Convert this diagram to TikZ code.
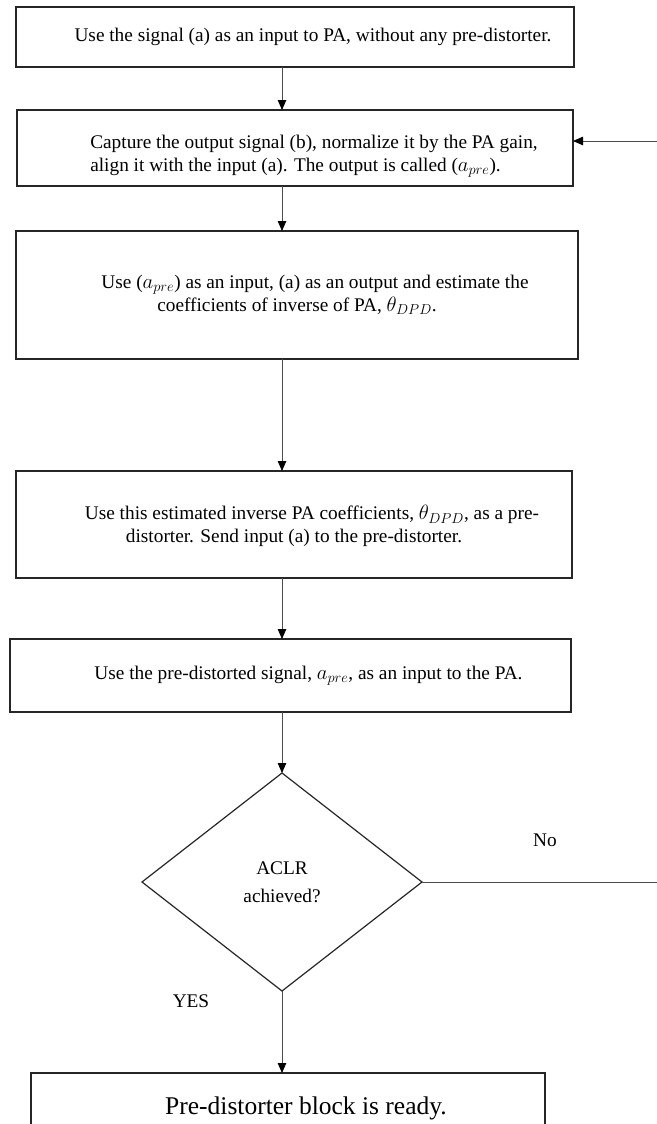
\documentclass[tikz,border=0pt]{standalone}
\usepackage{fontspec}
\setmainfont{Liberation Serif}
\usetikzlibrary{shapes.geometric,positioning,arrows.meta}

\begin{document}
\begin{tikzpicture}
  [x=1pt,y=-1pt,
   stepbox/.style={draw=black!85,line width=1.5pt,inner sep=0pt,outer sep=0pt,align=center,
                   font=\fontsize{19.3}{23}\selectfont},
   decision/.style={diamond,draw=black!85,line width=1.2pt,inner sep=0pt,outer sep=0pt,align=center,
                    minimum width=280pt,minimum height=218pt,font=\fontsize{19.3}{28}\selectfont},
   flow/.style={draw=black!70,line width=0.8pt,-{Triangle[length=10pt,width=8.5pt,color=black]}},
   lbl/.style={font=\fontsize{19.3}{23}\selectfont}]

  \useasboundingbox (0,0) rectangle (656,1124);

  \node[stepbox,minimum width=558pt,minimum height=60pt] (b1) at (295,37)
    {\hspace*{36pt}Use the signal (a) as an input to PA, without any pre-distorter.};
  \node[stepbox,minimum width=556pt,minimum height=76pt,align=left] (b2) [below=43pt of b1]
    {\hspace*{38pt}\rule{0pt}{29pt}Capture the output signal (b), normalize it by the PA gain,\\
     \hspace*{38pt}align it with the input (a). The output is called ($a_{pre}$).};
  \node[stepbox,minimum width=562pt,minimum height=128pt] (b3) [below=45pt of b2,xshift=2pt]
    {\hspace*{36pt}Use ($a_{pre}$) as an input, (a) as an output and estimate the\\
     coefficients of inverse of PA, $\theta_{DPD}$.};
  \node[stepbox,minimum width=556pt,minimum height=107pt] (b4) [below=112pt of b3,xshift=-3pt]
    {\hspace*{36pt}\rule{0pt}{18pt}Use this estimated inverse PA coefficients, $\theta_{DPD}$, as a pre-\\
     distorter. Send input (a) to the pre-distorter.};
  \node[stepbox,minimum width=561pt,minimum height=73pt] (b5) [below=61pt of b4,xshift=-3.5pt]
    {\hspace*{36pt}Use the pre-distorted signal, $a_{pre}$, as an input to the PA.};
  \node[decision] (dec) [below=61pt of b5,xshift=-8.5pt] {ACLR\\achieved?};
  \node[stepbox,minimum width=514pt,minimum height=70pt,font=\fontsize{25.5}{30}\selectfont]
    (done) [below=82pt of dec,xshift=6pt] {\hspace*{36pt}Pre-distorter block is ready.};

  \node[lbl] (no)  at (545,840)  {No};
  \node[lbl] (yes) at (191,1001) {YES};
  \coordinate (turn) at (690,882);

  \draw[flow] (b1.south -| dec.north) -- (b2.north -| dec.north);
  \draw[flow] (b2.south -| dec.north) -- (b3.north -| dec.north);
  \draw[flow] (b3.south -| dec.north) -- (b4.north -| dec.north);
  \draw[flow] (b4.south -| dec.north) -- (b5.north -| dec.north);
  \draw[flow] (b5.south -| dec.north) -- (dec.north);
  \draw[flow] (dec.south) -- (done.north -| dec.south);
  \draw[flow] (dec.east) -- (dec.east -| turn) |- ([yshift=7pt]b2.east);
\end{tikzpicture}
\end{document}
